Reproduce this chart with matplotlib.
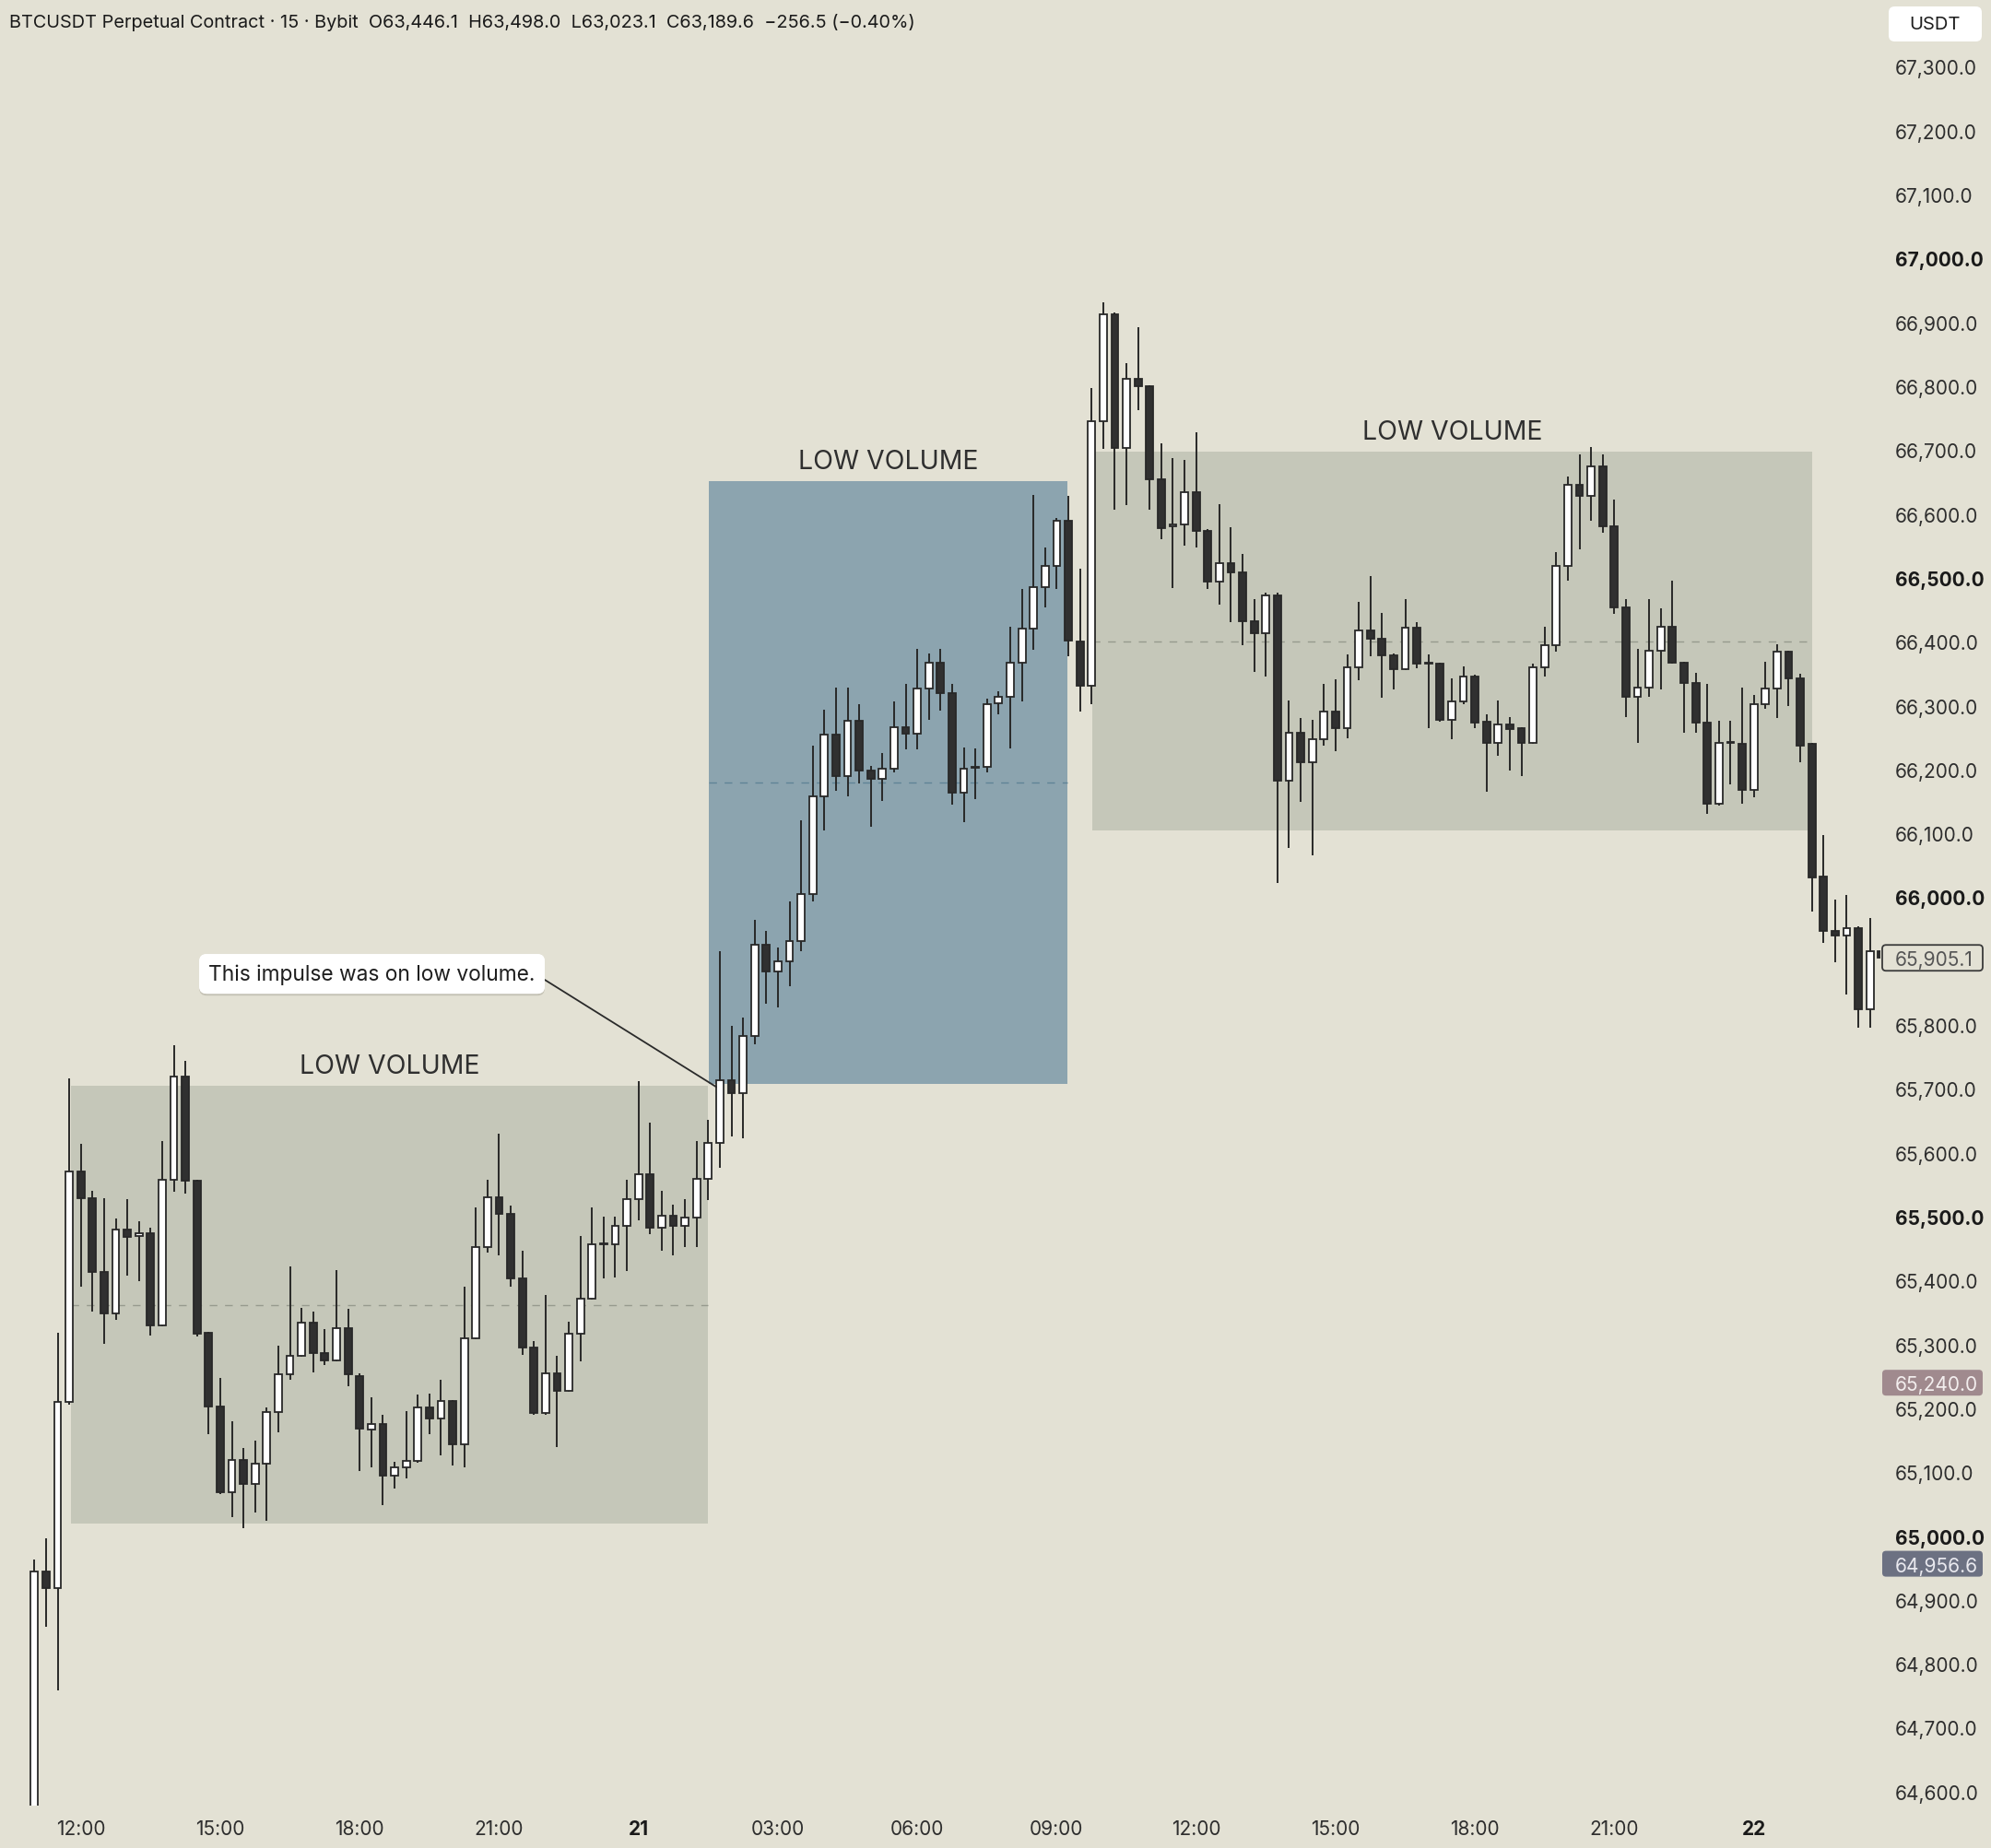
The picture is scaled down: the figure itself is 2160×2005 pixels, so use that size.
import numpy as np
import pandas as pd
import matplotlib
matplotlib.use('Agg')
import matplotlib.pyplot as plt
import matplotlib.patheffects as pe
from matplotlib.patches import Rectangle, FancyBboxPatch
from matplotlib.transforms import blended_transform_factory

plt.rcParams['font.family'] = ['Inter', 'DejaVu Sans']

# 15 minute bars, BTCUSDT perp
bar_times = pd.date_range('2024-05-20 11:00', periods=160, freq='15min')

opens = [64560, 64945, 64919, 65210, 65570, 65529, 65414, 65349, 65480, 65469,
         65474, 65330, 65558, 65719, 65556, 65318, 65203, 65068, 65119, 65081,
         65114, 65194, 65253, 65282, 65334, 65287, 65275, 65325, 65251, 65166,
         65176, 65095, 65108, 65117, 65201, 65184, 65211, 65144, 65310, 65452,
         65530, 65505, 65403, 65295, 65192, 65254, 65228, 65317, 65372, 65457,
         65457, 65485, 65528, 65567, 65482, 65502, 65485, 65499, 65559, 65615,
         65713, 65694, 65783, 65925, 65884, 65899, 65932, 66005, 66158, 66255,
         66190, 66276, 66198, 66185, 66201, 66266, 66256, 66327, 66367, 66319,
         66163, 66203, 66204, 66304, 66314, 66367, 66421, 66485, 66518, 66589,
         66401, 66331, 66745, 66913, 66704, 66812, 66800, 66654, 66580, 66584,
         66634, 66573, 66494, 66523, 66509, 66432, 66413, 66473, 66182, 66257,
         66211, 66247, 66290, 66264, 66360, 66418, 66405, 66379, 66357, 66422,
         66366, 66365, 66277, 66307, 66346, 66275, 66242, 66271, 66264, 66242,
         66360, 66394, 66518, 66646, 66629, 66675, 66581, 66453, 66314, 66328,
         66386, 66424, 66367, 66336, 66274, 66146, 66242, 66240, 66168, 66302,
         66327, 66384, 66343, 66240, 66032, 65947, 65940, 65952, 65824, 65916]
highs = [64963, 64996, 65318, 65717, 65614, 65541, 65529, 65497, 65528, 65493,
         65482, 65618, 65768, 65744, 65558, 65320, 65247, 65180, 65138, 65150,
         65202, 65298, 65422, 65357, 65352, 65324, 65417, 65355, 65255, 65217,
         65190, 65116, 65196, 65222, 65223, 65244, 65213, 65390, 65515, 65558,
         65630, 65517, 65447, 65305, 65378, 65282, 65335, 65469, 65515, 65500,
         65500, 65558, 65712, 65647, 65541, 65519, 65527, 65618, 65652, 65915,
         65798, 65812, 65964, 65947, 65921, 65994, 66121, 66238, 66294, 66328,
         66328, 66302, 66205, 66226, 66306, 66334, 66389, 66382, 66389, 66334,
         66235, 66233, 66311, 66322, 66423, 66483, 66630, 66548, 66594, 66628,
         66515, 66797, 66932, 66915, 66836, 66892, 66802, 66711, 66687, 66684,
         66728, 66576, 66615, 66579, 66538, 66466, 66477, 66477, 66308, 66281,
         66278, 66334, 66341, 66380, 66462, 66503, 66445, 66381, 66466, 66430,
         66380, 66367, 66342, 66361, 66348, 66287, 66308, 66282, 66266, 66366,
         66424, 66541, 66659, 66693, 66705, 66693, 66623, 66466, 66389, 66466,
         66452, 66495, 66369, 66351, 66334, 66276, 66276, 66328, 66317, 66368,
         66396, 66386, 66350, 66242, 66098, 65996, 66003, 65954, 65967, 65918]
lows = [64540, 64858, 64759, 65205, 65390, 65351, 65301, 65339, 65407, 65399,
        65314, 65328, 65539, 65536, 65312, 65159, 65066, 65030, 65013, 65037,
        65024, 65163, 65244, 65280, 65256, 65267, 65273, 65235, 65102, 65107,
        65048, 65074, 65090, 65115, 65159, 65127, 65110, 65107, 65308, 65443,
        65439, 65391, 65283, 65190, 65190, 65139, 65226, 65274, 65370, 65403,
        65405, 65415, 65494, 65473, 65446, 65439, 65453, 65453, 65526, 65577,
        65625, 65622, 65770, 65834, 65828, 65861, 65916, 65994, 66105, 66166,
        66158, 66178, 66110, 66150, 66196, 66231, 66231, 66278, 66292, 66145,
        66118, 66153, 66196, 66286, 66233, 66307, 66387, 66453, 66483, 66377,
        66290, 66302, 66702, 66606, 66614, 66763, 66606, 66561, 66484, 66551,
        66547, 66483, 66458, 66430, 66395, 66352, 66346, 66022, 66077, 66149,
        66066, 66237, 66228, 66249, 66340, 66377, 66312, 66326, 66355, 66358,
        66264, 66275, 66248, 66302, 66265, 66165, 66221, 66199, 66189, 66240,
        66345, 66385, 66496, 66544, 66589, 66570, 66444, 66282, 66241, 66314,
        66326, 66365, 66257, 66257, 66131, 66144, 66177, 66146, 66156, 66295,
        66281, 66300, 66211, 65977, 65929, 65898, 65847, 65796, 65796, 65900]
closes = [64945, 64919, 65210, 65570, 65529, 65414, 65349, 65480, 65468, 65474,
          65330, 65558, 65719, 65556, 65317, 65203, 65068, 65119, 65081, 65114,
          65194, 65253, 65282, 65334, 65287, 65275, 65325, 65253, 65168, 65175,
          65095, 65108, 65118, 65201, 65184, 65211, 65144, 65310, 65452, 65530,
          65505, 65403, 65295, 65192, 65254, 65228, 65317, 65372, 65457, 65458,
          65485, 65528, 65567, 65482, 65502, 65485, 65499, 65559, 65615, 65713,
          65694, 65783, 65925, 65884, 65899, 65932, 66005, 66158, 66255, 66190,
          66276, 66198, 66185, 66201, 66266, 66256, 66327, 66367, 66319, 66163,
          66201, 66204, 66302, 66314, 66367, 66421, 66485, 66518, 66589, 66402,
          66331, 66745, 66913, 66704, 66812, 66800, 66654, 66578, 66584, 66634,
          66573, 66494, 66523, 66509, 66432, 66413, 66473, 66182, 66257, 66211,
          66247, 66290, 66264, 66360, 66418, 66405, 66379, 66357, 66422, 66366,
          66367, 66277, 66307, 66346, 66273, 66242, 66271, 66263, 66242, 66360,
          66394, 66518, 66646, 66629, 66675, 66581, 66453, 66314, 66328, 66386,
          66424, 66367, 66336, 66274, 66146, 66242, 66243, 66168, 66302, 66327,
          66384, 66343, 66238, 66031, 65947, 65940, 65951, 65824, 65916, 65905]

# low volume zones (bar index span + price span)
zone_left = [3.15, 58.05, 91.1]
zone_right = [57.95, 88.9, 153.0]
zone_low = [65019, 65708, 66105]
zone_high = [65705, 66651, 66697]
zone_label = ['LOW VOLUME', 'LOW VOLUME', 'LOW VOLUME']

note_text = 'This impulse was on low volume.'
note_target = (58.7, 65703)
note_pos = (29.06, 65880)

price_ticks = np.arange(64600, 67301, 100)
tag_values = [65905.1, 65240.0, 64956.6]

header = ('BTCUSDT Perpetual Contract \u00b7 15 \u00b7 Bybit  O63,446.1  H63,498.0  '
          'L63,023.1  C63,189.6  \u2212256.5 (\u22120.40%)')

BG = '#e3e1d4'
ZONE_GREY = '#c5c7b9'
ZONE_BLUE = '#8ca4af'
DARK = '#303030'
EDGE = '#282828'
TXT = '#2e2e2e'

fig = plt.figure(figsize=(21.6, 20.06), dpi=100, facecolor=BG)
ax = fig.add_axes([0, 46 / 2006, 2040 / 2160, 1960 / 2006], facecolor=BG)
ax.set_xlim(-2.96, 158.9)
ax.set_ylim(64578, 67406)
for s in ax.spines.values():
    s.set_visible(False)

# zones
for i in range(len(zone_left)):
    fc = ZONE_BLUE if i == 1 else ZONE_GREY
    dc = '#5f8496' if i == 1 else '#979a8e'
    ax.add_patch(Rectangle((zone_left[i], zone_low[i]), zone_right[i] - zone_left[i],
                           zone_high[i] - zone_low[i], facecolor=fc, edgecolor='none', zorder=1))
    mid = (zone_low[i] + zone_high[i]) / 2
    ax.hlines(mid, zone_left[i], zone_right[i], colors=dc, linewidth=1.0,
              linestyles=(0, (6, 6)), zorder=2)
    ax.annotate(zone_label[i], xy=((zone_left[i] + zone_right[i]) / 2, zone_high[i]),
                xytext=(0, 6), textcoords='offset points', ha='center', va='bottom',
                fontsize=20.5, color='#2f2f2f', zorder=5)

# candles
x = np.arange(len(opens))
o = np.array(opens, dtype=float)
c = np.array(closes, dtype=float)
up = c >= o
body_bot = np.minimum(o, c)
body_h = np.maximum(np.abs(c - o), 1.5)
ax.vlines(x, lows, highs, colors=EDGE, linewidth=1.4, zorder=3)
ax.bar(x[up], body_h[up], bottom=body_bot[up], width=0.62, color='white',
       edgecolor=EDGE, linewidth=1.3, zorder=4)
ax.bar(x[~up], body_h[~up], bottom=body_bot[~up], width=0.62, color=DARK,
       edgecolor=EDGE, linewidth=1.3, zorder=4)

# callout
ann = ax.annotate(note_text, xy=note_target, xytext=note_pos, ha='center', va='center',
                  fontsize=16.4, color='#1e1e1e', zorder=7,
                  bbox=dict(boxstyle='round,pad=0.45,rounding_size=0.35', fc='white', ec='none'),
                  arrowprops=dict(arrowstyle='-', color='#2a2a2a', lw=1.3,
                                  shrinkA=0, shrinkB=0, relpos=(1, 0.5)))
ann.get_bbox_patch().set_path_effects([pe.withSimplePatchShadow(offset=(0, -1.5),
                                       shadow_rgbFace='#a9a699', alpha=0.5), pe.Normal()])

# price axis on the right
ax.yaxis.tick_right()
ax.set_yticks(price_ticks)
ax.set_yticklabels([f'{v:,.1f}' for v in price_ticks])
ax.tick_params(axis='y', length=0, pad=11.5, labelsize=15, labelcolor=TXT)
for lab, v in zip(ax.get_yticklabels(), price_ticks):
    if v % 500 == 0:
        lab.set_fontweight('bold')
        lab.set_color('#1a1a1a')
    # the last-price tag hides the tick label it sits on
    if abs(v - tag_values[0]) < 50:
        lab.set_visible(False)

# time axis
tick_idx, tick_lab, tick_bold = [], [], []
for i, t in enumerate(bar_times):
    if t.minute == 0 and t.hour % 3 == 0:
        tick_idx.append(i)
        if t.hour == 0:
            tick_lab.append(str(t.day))
            tick_bold.append(True)
        else:
            tick_lab.append(t.strftime('%H:%M'))
            tick_bold.append(False)
ax.set_xticks(tick_idx)
ax.set_xticklabels(tick_lab)
ax.tick_params(axis='x', length=0, pad=10.5, labelsize=15, labelcolor=TXT)
for lab, b in zip(ax.get_xticklabels(), tick_bold):
    if b:
        lab.set_fontweight('bold')
        lab.set_color('#1a1a1a')

# price tags on the axis
trans = blended_transform_factory(ax.transAxes, ax.transData)
ylo, yhi = ax.get_ylim()
px_y = (yhi - ylo) / 1960.0
tag_face = ['none', '#a08a8e', '#6c7182']
tag_edge = ['#3a3a3a', 'none', 'none']
tag_txt = ['#555555', '#f3eeee', '#e9e9ef']
for v, fc, ec, tc in zip(tag_values, tag_face, tag_edge, tag_txt):
    h = 28 * px_y
    ax.add_patch(FancyBboxPatch((2042 / 2040, v - h / 2), 109 / 2040, h,
                                boxstyle='round,pad=0,rounding_size=0.002',
                                mutation_aspect=px_y * 2040, transform=trans,
                                facecolor=fc, edgecolor=ec, linewidth=1.3, clip_on=False, zorder=8))
    ax.text(2056 / 2040, v, f'{v:,.1f}', transform=trans, ha='left', va='center_baseline',
            fontsize=15, color=tc, clip_on=False, zorder=9)

# currency button
fig.add_artist(FancyBboxPatch((2049 / 2160, 1 - 46 / 2006), 101 / 2160, 38 / 2006,
                              boxstyle='round,pad=0,rounding_size=0.003',
                              mutation_aspect=2160 / 2006, transform=fig.transFigure,
                              facecolor='white', edgecolor='none'))
fig.text(2099 / 2160, 1 - 27 / 2006, 'USDT', ha='center', va='center', fontsize=14.5, color='#1e1e1e')

fig.text(9.6 / 2160, 1 - 25 / 2006, header, ha='left', va='center', fontsize=14.3, color='#1a1a1a')

fig.savefig('out.png', dpi=100, facecolor=BG)
